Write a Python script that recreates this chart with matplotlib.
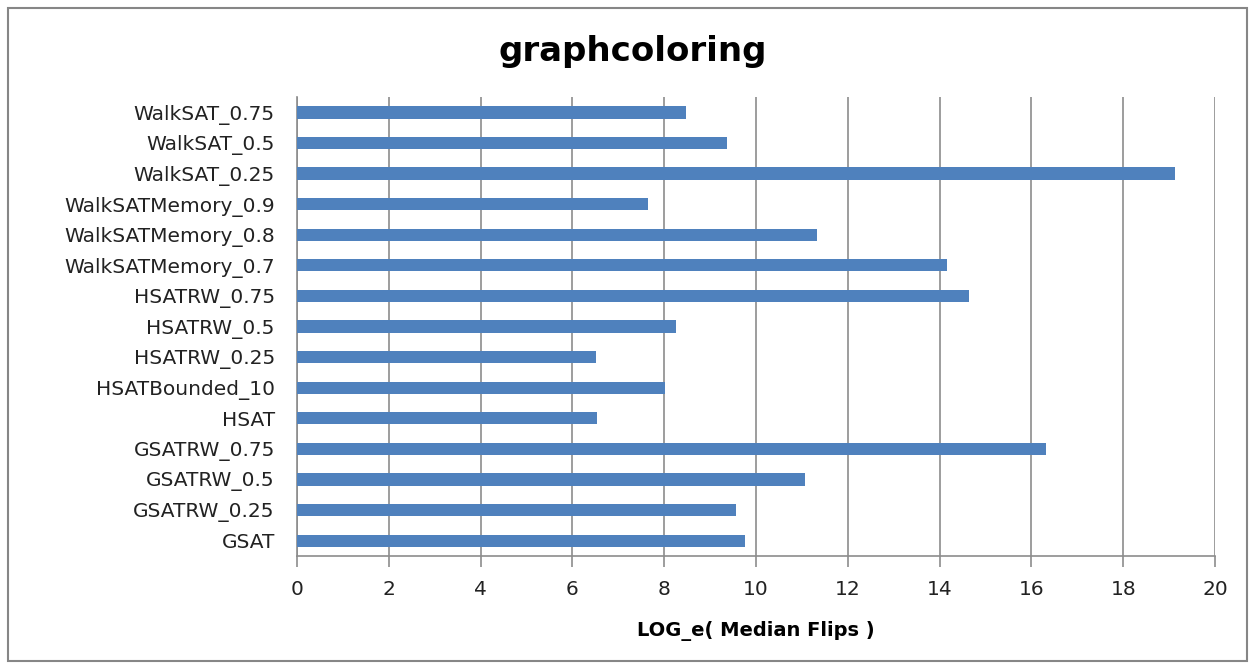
import matplotlib
matplotlib.use("Agg")
import matplotlib.pyplot as plt
from matplotlib.patches import Rectangle

# data (bottom to top, as drawn)
labels = ["GSAT", "GSATRW_0.25", "GSATRW_0.5", "GSATRW_0.75", "HSAT",
          "HSATBounded_10", "HSATRW_0.25", "HSATRW_0.5", "HSATRW_0.75",
          "WalkSATMemory_0.7", "WalkSATMemory_0.8", "WalkSATMemory_0.9",
          "WalkSAT_0.25", "WalkSAT_0.5", "WalkSAT_0.75"]
values = [9.76, 9.56, 11.07, 16.32, 6.54,
          8.02, 6.51, 8.26, 14.64,
          14.16, 11.33, 7.65,
          19.13, 9.37, 8.47]
xticks = list(range(0, 21, 2))

plt.rcParams["font.family"] = ["DejaVu Sans"]

fig = plt.figure(figsize=(12.55, 6.65), dpi=100)
ax = fig.add_axes([0.2367, 0.164, 0.7315, 0.690])

# outer chart border
fig.patches.append(Rectangle((0.006, 0.006), 0.988, 0.982, transform=fig.transFigure,
                             fill=False, edgecolor="#868686", linewidth=1.5))

ax.barh(range(len(labels)), values, height=0.4, color="#4F81BD", zorder=3)

ax.set_xlim(0, 20)
ax.set_ylim(-0.5, len(labels) - 0.5)
ax.set_xticks(xticks)
ax.set_yticks(range(len(labels)))
ax.set_yticklabels(labels)

ax.grid(axis="x", color="#8c8c8c", linewidth=1.2, zorder=0)
for side in ["top", "right"]:
    ax.spines[side].set_visible(False)
for side in ["left", "bottom"]:
    ax.spines[side].set_color("#8c8c8c")
    ax.spines[side].set_linewidth(1.2)

ax.tick_params(axis="x", length=8, color="#8c8c8c", width=1.2, labelsize=14.5,
               pad=9, labelcolor="#222222")
ax.tick_params(axis="y", length=0, labelsize=14.5, pad=16, labelcolor="#222222")

fig.text(0.504, 0.923, "graphcoloring", ha="center", va="center",
         fontsize=24.5, fontweight="bold")
ax.set_xlabel("LOG_e( Median Flips )", fontsize=14, fontweight="bold", labelpad=16)

fig.savefig("out.png", dpi=100)
